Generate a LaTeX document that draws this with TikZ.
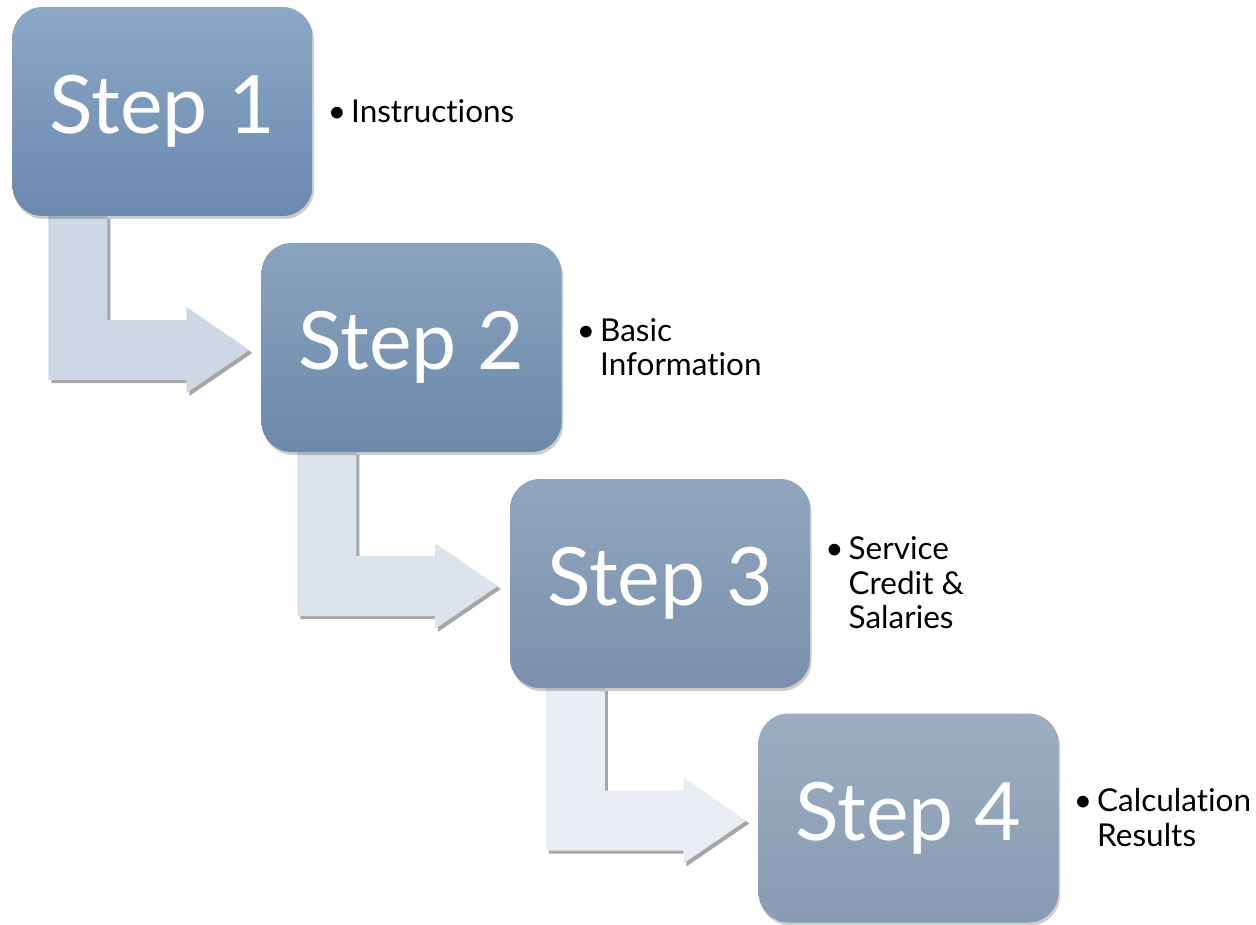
\documentclass[tikz,border=0pt]{standalone}
\usepackage{fontspec}
\setmainfont{Lato}[Ligatures={NoCommon}]
\usetikzlibrary{calc,shadows}
\pgfdeclarelayer{background}
\pgfsetlayers{background,main}
\definecolor{ta}{HTML}{8CA8C6}\definecolor{ba}{HTML}{6A89AE}
\definecolor{tb}{HTML}{8AA3BE}\definecolor{bb}{HTML}{6C89AA}
\definecolor{tc}{HTML}{91A6BE}\definecolor{bc}{HTML}{7A90AC}
\definecolor{td}{HTML}{9CADC0}\definecolor{bd}{HTML}{889BB3}
\definecolor{aa}{HTML}{CDD7E5}\definecolor{ab}{HTML}{DCE3EC}\definecolor{ac}{HTML}{E9EDF3}
\newcommand\bentarrow[3]{%
  \coordinate (#1-a) at ($(#1.south west)+(36,0)$);
  \coordinate (#1-b) at ($(#1.south west)+(95,0)$);
  \coordinate (#2-c) at ($(#2.west)+(-75,-27.5)$);
  \coordinate (#2-d) at ($(#2.west)+(-75,32.5)$);
  \coordinate (#2-e) at ($(#2.west)+(-75,-40.5)$);
  \coordinate (#2-f) at ($(#2.west)+(-12,2.5)$);
  \coordinate (#2-g) at ($(#2.west)+(-75,45.5)$);
  \begin{pgfonlayer}{background}
  \fill[fill=#3, drop shadow={shadow xshift=3pt, shadow yshift=-3pt, opacity=0.35, fill=black}]
    (#1-a) -- (#1-b) -- (#1-b |- #2-c) -- (#2-c) -- (#2-e) -- (#2-f) -- (#2-g) -- (#2-d) -- (#1-a |- #2-d) -- cycle;
  \end{pgfonlayer}}
\begin{document}
\begin{tikzpicture}[x=1pt,y=-1pt,
  stepbox/.style={rectangle, rounded corners=30pt, minimum width=300pt, minimum height=209pt,
    inner sep=0pt, text=white, font=\fontsize{80.5}{92}\selectfont,
    drop shadow={shadow xshift=1.5pt, shadow yshift=-3pt, opacity=0.2, fill=black}},
  note/.style={anchor=west, inner sep=0pt, font=\fontsize{31.5}{34.5}\selectfont, text=black}]
\useasboundingbox (0,0) rectangle (1256,925);
\node[stepbox, top color=ta, bottom color=ba] (s1) at (162.5,111.5) {\raisebox{-3pt}{Step 1}};
\node[stepbox, top color=tb, bottom color=bb] (s2) at (411.5,347.5) {\raisebox{-3pt}{Step 2}};
\node[stepbox, top color=tc, bottom color=bc] (s3) at (660,583.5) {\raisebox{-3pt}{Step 3}};
\node[stepbox, top color=td, bottom color=bd] (s4) at (908.5,818) {\raisebox{-3pt}{Step 4}};
\bentarrow{s1}{s2}{aa}
\bentarrow{s2}{s3}{ab}
\bentarrow{s3}{s4}{ac}
\node[note] (n1) at ($(s1.east)+(15,4.5)$) {\begin{tabular}{@{}l@{\hspace{5pt}}l@{}}\textbullet & Instructions\end{tabular}};
\node[note] (n2) at ($(s2.east)+(15,4)$) {\begin{tabular}{@{}l@{\hspace{5pt}}l@{}}\textbullet & Basic\\ & Information\end{tabular}};
\node[note] (n3) at ($(s3.east)+(15,4)$) {\begin{tabular}{@{}l@{\hspace{5pt}}l@{}}\textbullet & Service\\ & Credit \&\\ & Salaries\end{tabular}};
\node[note] (n4) at ($(s4.east)+(15,4)$) {\begin{tabular}{@{}l@{\hspace{5pt}}l@{}}\textbullet & Calculation\\ & Results\end{tabular}};
\end{tikzpicture}
\end{document}
